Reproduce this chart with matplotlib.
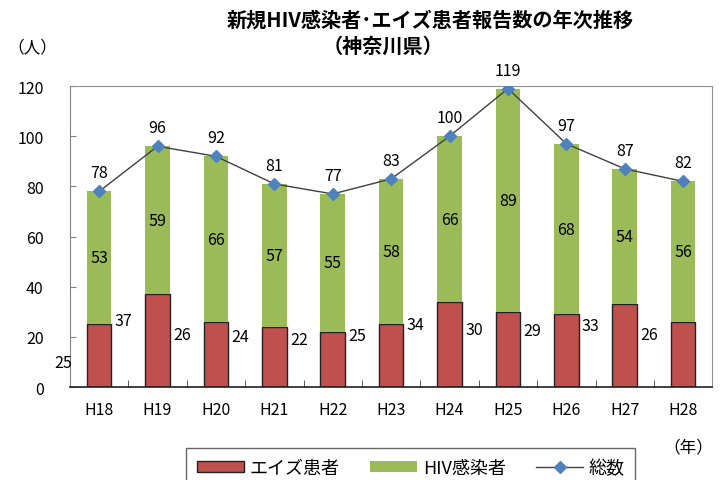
import numpy as np
import matplotlib
matplotlib.use("Agg")
import matplotlib.pyplot as plt

plt.rcParams["font.family"] = ["Noto Sans CJK JP", "DejaVu Sans"]

# --- data ---
years = ["H18", "H19", "H20", "H21", "H22", "H23", "H24", "H25", "H26", "H27", "H28"]
aids = [25, 37, 26, 24, 22, 25, 34, 30, 29, 33, 26]
hiv = [53, 59, 66, 57, 55, 58, 66, 89, 68, 54, 56]
total = [a + h for a, h in zip(aids, hiv)]

red = "#C0504D"
green = "#9BBB59"
blue = "#4F81BD"

fig = plt.figure(figsize=(7.21, 4.81), dpi=100)
ax = fig.add_axes([0.097, 0.193, 0.891, 0.626])

x = np.arange(len(years))
w = 0.42
b1 = ax.bar(x, aids, w, color=red, edgecolor="#222222", lw=1.0, label="エイズ患者", zorder=2)
b2 = ax.bar(x, hiv, w, bottom=aids, color=green, edgecolor="none", label="HIV感染者", zorder=2)
ln, = ax.plot(x, total, "-", color="#404040", lw=1.0, marker="D", ms=6,
              mfc=blue, mec=blue, label="総数", zorder=3)

# labels
for i in range(len(years)):
    ax.text(x[i], aids[i] + hiv[i] / 2, str(hiv[i]), ha="center", va="center", fontsize=11.5)
    ax.text(x[i], total[i] + 4, str(total[i]), ha="center", va="bottom", fontsize=11.5, clip_on=False)
    # aids labels sit to the left of each bar
    ly = 10 if i == 0 else aids[i] * 0.5 + 8
    lx = x[i] - 0.58 if i > 0 else x[i] - 0.62
    ax.text(lx, ly, str(aids[i]), ha="center", va="center", fontsize=11.5, clip_on=False)

ax.set_xlim(-0.5, len(years) - 0.5)
ax.set_ylim(0, 120)
ax.set_yticks(range(0, 121, 20))
ax.set_xticks(x)
ax.set_xticklabels(years, fontsize=11.5)
ax.tick_params(axis="y", direction="in", length=4, labelsize=11.5, pad=19, color="#808080")
ax.tick_params(axis="x", length=0, pad=10)
# category boundary ticks
ax.set_xticks(np.arange(-0.5, len(years)), minor=True)
ax.tick_params(axis="x", which="minor", direction="in", length=5, color="#404040")

for s in ["top", "right"]:
    ax.spines[s].set_color("#909090")
    ax.spines[s].set_linewidth(0.8)
ax.spines["left"].set_color("#808080")
ax.spines["bottom"].set_color("#202020")
ax.spines["bottom"].set_linewidth(1.2)

fig.text(0.596, 0.958, "新規HIV感染者･エイズ患者報告数の年次推移", ha="center", va="center",
         fontsize=14.5, fontweight="bold")
fig.text(0.531, 0.903, "（神奈川県）", ha="center", va="center", fontsize=14.5, fontweight="bold")
fig.text(0.045, 0.9, "（人）", ha="center", va="center", fontsize=12)
fig.text(0.955, 0.068, "（年）", ha="center", va="center", fontsize=12)

leg = fig.legend(handles=[b1, b2, ln], loc="lower center", bbox_to_anchor=(0.570, -0.035),
                 ncol=3, frameon=True, fancybox=False, edgecolor="#404040",
                 fontsize=13, handlelength=2.6, handleheight=0.55, handletextpad=0.3,
                 columnspacing=1.7, borderpad=0.6)
leg.get_frame().set_linewidth(1.0)

fig.savefig("out.png", dpi=100)
